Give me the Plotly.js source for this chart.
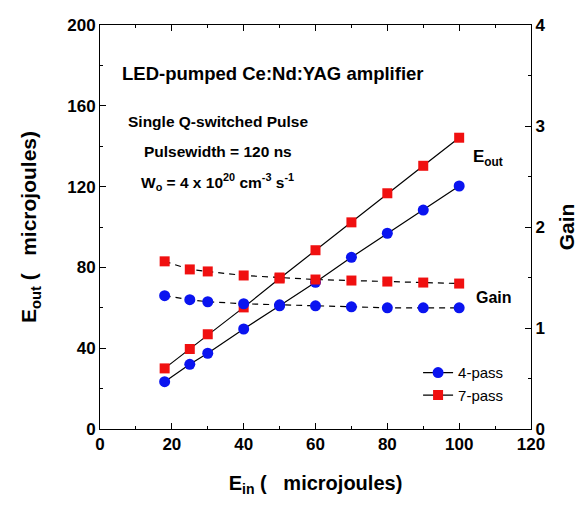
<!DOCTYPE html>
<html>
<head>
<meta charset="utf-8">
<script src="https://cdn.plot.ly/plotly-3.0.1.min.js"></script>
<style>html,body{margin:0;padding:0;background:#fff;}#chart{width:587px;height:511px;}</style>
</head>
<body>
<div id="chart"></div>
<script>
// Input energy (microjoules)
const ein = [18, 25, 30, 40, 50, 60, 70, 80, 90, 100];
// Output energy (microjoules)
const eout4 = [23.4, 32.0, 37.5, 49.5, 61.0, 72.6, 85.0, 96.9, 108.4, 120.3];
const eout7 = [30.0, 39.6, 46.9, 60.2, 74.5, 88.5, 102.3, 116.7, 130.3, 144.2];
// Gain (right axis)
const gain4 = [1.32, 1.28, 1.26, 1.24, 1.23, 1.22, 1.21, 1.20, 1.20, 1.20];
const gain7 = [1.66, 1.58, 1.56, 1.52, 1.50, 1.48, 1.47, 1.46, 1.45, 1.44];

const FONT = 'Liberation Sans, Arial, sans-serif';
const blue = '#0a14f0';
const red = '#f01010';

const traces = [
  {x: ein, y: eout7, name: '7-pass', mode: 'lines+markers', legendrank: 2,
   line: {color: '#000', width: 1.2}, marker: {symbol: 'square', size: 10, color: red}},
  {x: ein, y: gain7, yaxis: 'y2', mode: 'lines+markers', showlegend: false,
   line: {color: '#000', width: 1.2, dash: '6px,5px'}, marker: {symbol: 'square', size: 10, color: red}},
  {x: ein, y: eout4, name: '4-pass', mode: 'lines+markers', legendrank: 1,
   line: {color: '#000', width: 1.2}, marker: {symbol: 'circle', size: 11, color: blue}},
  {x: ein, y: gain4, yaxis: 'y2', mode: 'lines+markers', showlegend: false,
   line: {color: '#000', width: 1.2, dash: '6px,5px'}, marker: {symbol: 'circle', size: 11, color: blue}}
];

const axisCommon = {
  showgrid: false, zeroline: false, showline: true, linecolor: '#000', linewidth: 1,
  ticks: 'inside', ticklen: 6, tickcolor: '#000', tickwidth: 1,
  tickfont: {family: FONT, size: 17, color: '#000', weight: 'bold'}
};

function ann(px, py, text, size, weight) {
  return {xref: 'paper', yref: 'paper', x: (px - 100) / 431, y: (429 - py) / 404,
          xanchor: 'center', yanchor: 'middle', text: text, showarrow: false,
          font: {family: FONT, size: size, color: '#000', weight: weight || 'bold'}};
}

const layout = {
  width: 587, height: 511,
  margin: {l: 100, r: 56, t: 25, b: 82},
  paper_bgcolor: '#fff', plot_bgcolor: '#fff',
  font: {family: FONT, color: '#000'},
  showlegend: true,
  legend: {x: 0.738, y: 0.18, xanchor: 'left', yanchor: 'top', bgcolor: 'rgba(0,0,0,0)',
           font: {family: FONT, size: 15, color: '#000'}, traceorder: 'normal', tracegroupgap: 0},
  xaxis: Object.assign({}, axisCommon, {
    range: [0, 120], dtick: 20, tick0: 0, mirror: 'ticks',
    minor: {dtick: 10, ticks: 'inside', ticklen: 3, tickcolor: '#000'},
    title: {text: 'E<sub>in</sub> (&nbsp;&nbsp; microjoules)', font: {family: FONT, size: 20, color: '#000', weight: 'bold'}, standoff: 22}
  }),
  yaxis: Object.assign({}, axisCommon, {
    range: [0, 200], dtick: 40, tick0: 0,
    minor: {dtick: 20, ticks: 'inside', ticklen: 3, tickcolor: '#000'},
    title: {text: 'E<sub>out</sub> (&nbsp;&nbsp; microjoules)', font: {family: FONT, size: 21, color: '#000', weight: 'bold'}, standoff: 24}
  }),
  yaxis2: Object.assign({}, axisCommon, {
    overlaying: 'y', side: 'right', range: [0, 4], dtick: 1, tick0: 0,
    minor: {dtick: 0.5, ticks: 'inside', ticklen: 3, tickcolor: '#000'},
    title: {text: 'Gain', font: {family: FONT, size: 21, color: '#000', weight: 'bold'}, standoff: 14}
  }),
  annotations: [
    ann(273, 73, 'LED-pumped Ce:Nd:YAG amplifier', 18.5),
    ann(218, 121, 'Single Q-switched Pulse', 15.5),
    ann(218, 152, 'Pulsewidth = 120 ns', 15.5),
    ann(217, 182, 'W<sub>o</sub> = 4 x 10<sup>20</sup> cm<sup>-3</sup> s<sup>-1</sup>', 15.5),
    ann(488, 158, 'E<sub>out</sub>', 17),
    ann(494, 297, 'Gain', 16)
  ]
};

Plotly.newPlot('chart', traces, layout, {staticPlot: true, displayModeBar: false});
</script>
</body>
</html>
